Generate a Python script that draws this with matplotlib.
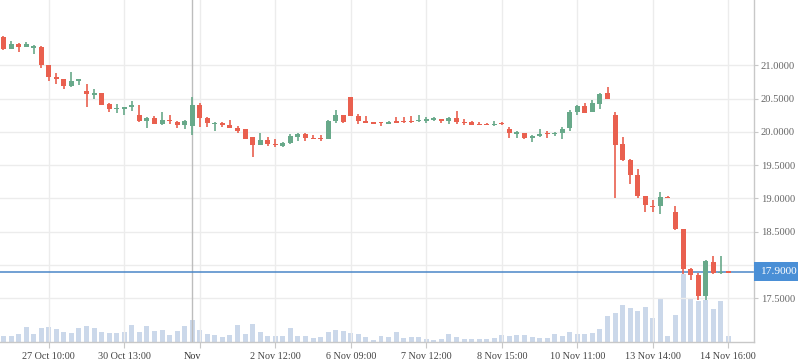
import matplotlib
matplotlib.use("Agg")
import matplotlib.pyplot as plt
from matplotlib.patches import Rectangle
import numpy as np

# ---------------- data ----------------
opens = [21.43, 21.245, 21.32, 21.28, 21.27, 21.275, 21.0, 20.825, 20.795, 20.695,
         20.77, 20.615, 20.56, 20.585, 20.42, 20.35, 20.345, 20.375, 20.25, 20.17,
         20.21, 20.12, 20.18, 20.15, 20.10, 20.09, 20.405, 20.21, 20.12, 20.13,
         20.105, 20.055, 20.04, 19.92, 19.81, 19.88, 19.81, 19.79, 19.83, 19.93,
         19.975, 19.91, 19.91, 19.90, 20.165, 20.255, 20.525, 20.245, 20.165, 20.14,
         20.14, 20.125, 20.15, 20.16, 20.155, 20.16, 20.16, 20.19, 20.195, 20.17,
         20.215, 20.15, 20.15, 20.11, 20.11, 20.11, 20.125, 20.05, 19.98, 19.985,
         19.915, 19.94, 19.985, 19.975, 19.985, 20.065, 20.30, 20.39, 20.30, 20.425,
         20.58, 20.255, 19.82, 19.585, 19.355, 19.04, 18.89, 18.88, 19.025, 18.80,
         18.54, 17.94, 17.85, 17.54, 18.045, 17.885, 17.90]
highs = [21.44, 21.365, 21.33, 21.345, 21.30, 21.29, 21.0, 20.885, 20.795, 20.90,
         20.795, 20.72, 20.645, 20.59, 20.435, 20.42, 20.375, 20.46, 20.40, 20.22,
         20.24, 20.295, 20.26, 20.165, 20.18, 20.52, 20.43, 20.225, 20.145, 20.145,
         20.18, 20.085, 20.05, 19.925, 19.99, 19.92, 19.89, 19.855, 19.97, 19.99,
         19.98, 19.95, 19.95, 20.18, 20.33, 20.255, 20.525, 20.27, 20.245, 20.145,
         20.15, 20.16, 20.23, 20.23, 20.245, 20.25, 20.22, 20.225, 20.195, 20.23,
         20.315, 20.195, 20.17, 20.145, 20.135, 20.16, 20.145, 20.07, 20.02, 19.985,
         19.955, 20.04, 20.02, 20.0, 20.07, 20.33, 20.41, 20.43, 20.48, 20.58,
         20.68, 20.30, 19.925, 19.59, 19.44, 19.04, 18.97, 19.09, 19.03, 18.89,
         18.54, 17.955, 17.88, 18.08, 18.135, 18.135, 17.90]
lows = [21.23, 21.245, 21.20, 21.28, 21.17, 20.965, 20.77, 20.72, 20.65, 20.68,
        20.71, 20.38, 20.50, 20.41, 20.30, 20.29, 20.26, 20.32, 20.155, 20.065,
        20.115, 20.11, 20.12, 20.055, 20.05, 19.95, 20.08, 20.08, 20.02, 20.08,
        20.055, 19.99, 19.90, 19.63, 19.81, 19.79, 19.77, 19.78, 19.82, 19.87,
        19.87, 19.90, 19.87, 19.89, 20.14, 20.14, 20.24, 20.12, 20.14, 20.12,
        20.09, 20.12, 20.14, 20.14, 20.14, 20.15, 20.14, 20.17, 20.14, 20.125,
        20.12, 20.11, 20.11, 20.10, 20.10, 20.085, 20.11, 19.915, 19.915, 19.90,
        19.855, 19.93, 19.915, 19.94, 19.90, 20.02, 20.26, 20.29, 20.30, 20.345,
        20.50, 19.0, 19.565, 19.22, 19.01, 18.80, 18.80, 18.76, 19.01, 18.53,
        17.87, 17.78, 17.48, 17.47, 17.86, 17.87, 17.89]
closes = [21.245, 21.32, 21.28, 21.32, 21.28, 21.01, 20.83, 20.795, 20.695, 20.765,
          20.795, 20.575, 20.59, 20.41, 20.345, 20.36, 20.375, 20.40, 20.165, 20.205,
          20.125, 20.18, 20.17, 20.11, 20.16, 20.405, 20.215, 20.13, 20.13, 20.11,
          20.065, 20.01, 19.90, 19.81, 19.88, 19.82, 19.80, 19.84, 19.94, 19.975,
          19.91, 19.90, 19.895, 20.17, 20.25, 20.155, 20.245, 20.17, 20.14, 20.125,
          20.13, 20.155, 20.145, 20.15, 20.145, 20.17, 20.20, 20.195, 20.16, 20.21,
          20.15, 20.14, 20.11, 20.105, 20.105, 20.12, 20.115, 19.99, 19.985, 19.915,
          19.94, 19.975, 19.975, 19.985, 20.05, 20.30, 20.39, 20.29, 20.43, 20.57,
          20.50, 19.81, 19.58, 19.36, 19.04, 18.895, 18.87, 19.02, 19.015, 18.54,
          17.94, 17.855, 17.54, 18.065, 17.885, 17.90, 17.89]
volumes = [630, 630, 830, 1530, 830, 1430, 1530, 1330, 1030, 930,
           1430, 1630, 1430, 1030, 930, 930, 1030, 1730, 1030, 1630,
           1130, 1230, 730, 1130, 1630, 2230, 1230, 830, 730, 530,
           730, 1730, 830, 1830, 1030, 630, 630, 630, 1430, 630,
           630, 430, 530, 1030, 1230, 1130, 930, 830, 530, 230,
           630, 530, 1030, 430, 530, 530, 330, 230, 330, 830,
           530, 330, 330, 330, 330, 430, 730, 630, 730, 730,
           530, 430, 430, 830, 630, 1030, 830, 830, 930, 1330,
           2630, 2930, 3730, 3430, 3130, 3530, 2430, 4430, 630, 2730,
           6830, 4430, 4130, 4230, 3330, 4130, 630]

tick_pos = [6, 16, 26, 36, 46, 56, 66, 76, 86, 96]
tick_labels = ["27 Oct 10:00", "30 Oct 13:00", "", "2 Nov 12:00", "6 Nov 09:00",
               "7 Nov 12:00", "8 Nov 15:00", "10 Nov 11:00", "13 Nov 14:00",
               "14 Nov 16:00"]
cursor_pos = 25
cursor_label = "Nov"
yticks = [17.5, 18.0, 18.5, 19.0, 19.5, 20.0, 20.5, 21.0]
ytick_labels = ["17.5000", "", "18.5000", "19.0000", "19.5000", "20.0000",
                "20.5000", "21.0000"]
last_price = 17.90

# ---------------- style ----------------
RED = "#e9604f"
GREEN = "#68a98a"
VOL = "#cbd8ea"
GRID = "#ececec"
AXIS = "#c8c8c8"
BLUE = "#4a8fd6"
FONT = "Liberation Serif"

W, H = 798, 363
fig = plt.figure(figsize=(W / 100, H / 100), dpi=100)
rect = [0, (H - 342.3) / H, 754 / W, 342.3 / H]

vax = fig.add_axes(rect, zorder=0)
ax = fig.add_axes(rect, zorder=1)
ax.patch.set_alpha(0)

idx = np.arange(len(opens))
xlim = (-0.46, 99.4)
ylim = (16.841, 21.98)

# volume
vax.bar(idx, volumes, width=0.66, color=VOL, linewidth=0)
vax.set_xlim(*xlim)
vax.set_ylim(0, 34230)
vax.axis("off")

# axes / grid
ax.set_xlim(*xlim)
ax.set_ylim(*ylim)
ax.set_xticks(tick_pos)
ax.set_xticklabels(tick_labels, fontfamily=FONT, fontsize=7.3, color="#444444")
ax.set_yticks(yticks)
ax.set_yticklabels(ytick_labels, fontfamily=FONT, fontsize=7.6, color="#666666")
ax.yaxis.tick_right()
ax.tick_params(axis="x", length=4, width=0.8, color=AXIS, pad=3)
ax.tick_params(axis="y", length=3, width=0.8, color=AXIS, pad=2)
ax.grid(True, color=GRID, linewidth=1.0)
ax.set_axisbelow(True)
for s in ["top", "left"]:
    ax.spines[s].set_visible(False)
for s in ["right", "bottom"]:
    ax.spines[s].set_color(AXIS)
    ax.spines[s].set_linewidth(1.0)

# cursor line
ax.axvline(cursor_pos, color="#bdbdbd", linewidth=1.0, zorder=1.5)
ax.annotate(cursor_label, xy=(cursor_pos, 0), xycoords=("data", "axes fraction"),
            xytext=(0, -7), textcoords="offset points", ha="center", va="top",
            fontfamily=FONT, fontsize=7.3, color="#333333")

# last price line
ax.axhline(last_price, color="#4a86c8", linewidth=1.1, zorder=2)
ax.annotate(f"{last_price:.4f}", xy=(1.0, last_price),
            xycoords=("axes fraction", "data"), xytext=(4, 0),
            textcoords="offset points", ha="left", va="center",
            fontfamily=FONT, fontsize=8.2, color="white", annotation_clip=False,
            bbox=dict(boxstyle="square,pad=0.45", fc=BLUE, ec="none"))

# candles
body_w = 0.66
min_body = 0.018
for i in idx:
    o, h, l, c = opens[i], highs[i], lows[i], closes[i]
    col = GREEN if c >= o else RED
    ax.vlines(i, l, h, color=col, linewidth=1.2, zorder=3)
    lo = min(o, c)
    hgt = max(abs(c - o), min_body)
    if abs(c - o) < min_body:
        lo = (o + c) / 2 - min_body / 2
    ax.add_patch(Rectangle((i - body_w / 2, lo), body_w, hgt, facecolor=col,
                           edgecolor="none", zorder=4))

fig.savefig("out.png", dpi=100)
